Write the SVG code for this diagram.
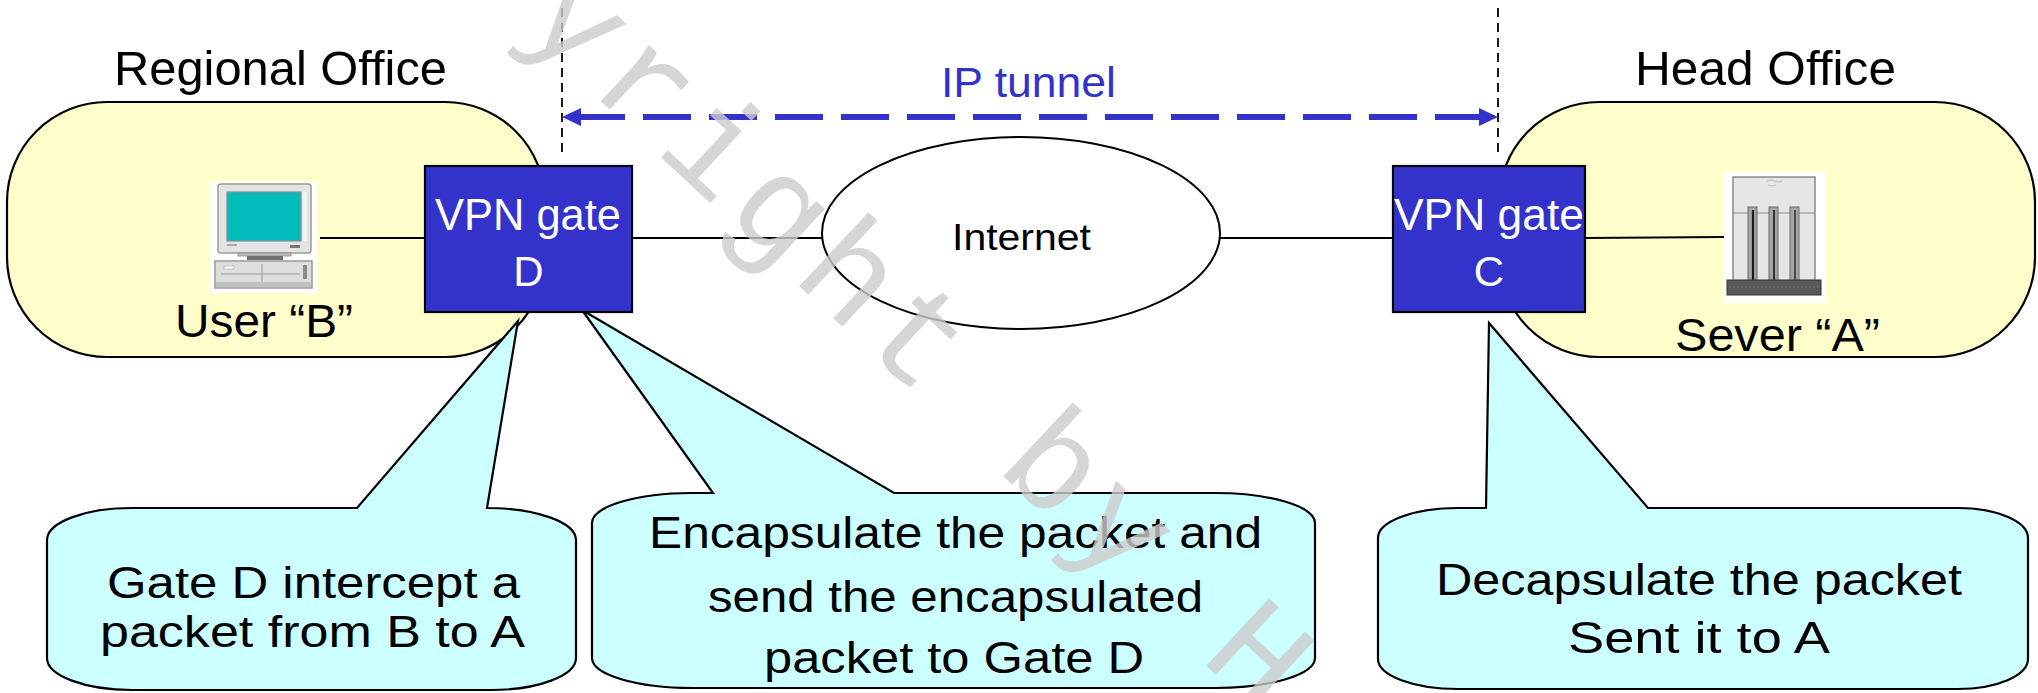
<svg xmlns="http://www.w3.org/2000/svg" width="2038" height="693" viewBox="0 0 2038 693">
  <defs>
    <style>
      .lbl { font-family: "Liberation Sans", Arial, sans-serif; fill: #000; }
      .wlbl { font-family: "Liberation Sans", Arial, sans-serif; fill: #fff; }
      .office { fill: #ffffcc; stroke: #000; stroke-width: 2.2; }
      .gate { fill: #3333cc; stroke: #000; stroke-width: 2.2; }
      .callout { fill: #ccffff; stroke: #000; stroke-width: 2.2; stroke-linejoin: miter; }
      .wire { stroke: #000; stroke-width: 2; fill: none; }
      .guide { stroke: #000; stroke-width: 1.8; stroke-dasharray: 9 6; fill: none; }
      .tunnel { stroke: #3333cc; stroke-width: 6; stroke-dasharray: 48 18; stroke-dashoffset: 51; fill: none; }
      .mark { font-family: "Liberation Mono", "Courier New", monospace; fill: #cccccc; fill-opacity: 0.8; }
    </style>
    <marker id="tunnelHead" markerUnits="userSpaceOnUse" markerWidth="20" markerHeight="20"
            viewBox="0 0 20 20" refX="19" refY="10" orient="auto-start-reverse">
      <path d="M0,1 L19,10 L0,19 Z" fill="#3333cc"/>
    </marker>
  </defs>

  <rect width="2038" height="693" fill="#fff"/>

  <!-- office areas -->
  <g id="regional-office">
    <rect class="office" x="7" y="102" width="538" height="255" rx="100" ry="100"/>
    <text class="lbl" x="114" y="85" font-size="48" textLength="333" lengthAdjust="spacingAndGlyphs">Regional Office</text>
  </g>
  <g id="head-office">
    <rect class="office" x="1499" y="102" width="536" height="255" rx="100" ry="100"/>
    <text class="lbl" x="1635" y="85" font-size="48" textLength="261" lengthAdjust="spacingAndGlyphs">Head Office</text>
  </g>

  <!-- tunnel span markers and arrow -->
  <g id="ip-tunnel">
    <line class="guide" x1="562" y1="8" x2="562" y2="155"/>
    <line class="guide" x1="1498" y1="8" x2="1498" y2="155"/>
    <line class="tunnel" x1="562" y1="117" x2="1498" y2="117" marker-start="url(#tunnelHead)" marker-end="url(#tunnelHead)"/>
    <text x="941" y="97" font-size="42" font-family="Liberation Sans, Arial, sans-serif" fill="#3333cc" textLength="175" lengthAdjust="spacingAndGlyphs">IP tunnel</text>
  </g>

  <!-- callouts -->
  <g id="callout-intercept">
    <path class="callout" d="M132,508 L357,508 L518,321 L487,508 A89,32 0 0 1 576,540 L576,658 A85,32 0 0 1 491,690 L132,690 A85,32 0 0 1 47,658 L47,540 A85,32 0 0 1 132,508 Z"/>
    <text class="lbl" x="107" y="598" font-size="44" textLength="413" lengthAdjust="spacingAndGlyphs">Gate D intercept a</text>
    <text class="lbl" x="100" y="647" font-size="44" textLength="425" lengthAdjust="spacingAndGlyphs">packet from B to A</text>
  </g>
  <g id="callout-encapsulate">
    <path class="callout" d="M692,493 L713,493 L582,310 L894,493 L1215,493 A100,30 0 0 1 1315,523 L1315,658 A100,30 0 0 1 1215,688 L692,688 A100,30 0 0 1 592,658 L592,523 A100,30 0 0 1 692,493 Z"/>
    <text class="lbl" x="649" y="548" font-size="44" textLength="613" lengthAdjust="spacingAndGlyphs">Encapsulate the packet and</text>
    <text class="lbl" x="708" y="612" font-size="44" textLength="495" lengthAdjust="spacingAndGlyphs">send the encapsulated</text>
    <text class="lbl" x="764" y="673" font-size="44" textLength="380" lengthAdjust="spacingAndGlyphs">packet to Gate D</text>
  </g>
  <g id="callout-decapsulate">
    <path class="callout" d="M1458,508 L1486,508 L1489,323 L1648,508 L1958,508 A70,30 0 0 1 2028,538 L2028,659 A70,30 0 0 1 1958,689 L1458,689 A80,30 0 0 1 1378,659 L1378,538 A80,30 0 0 1 1458,508 Z"/>
    <text class="lbl" x="1436" y="595" font-size="44" textLength="526" lengthAdjust="spacingAndGlyphs">Decapsulate the packet</text>
    <text class="lbl" x="1568" y="653" font-size="44" textLength="262" lengthAdjust="spacingAndGlyphs">Sent it to A</text>
  </g>

  <!-- links -->
  <g id="connectors">
    <line class="wire" x1="320" y1="238" x2="425" y2="238"/>
    <line class="wire" x1="632" y1="238" x2="823" y2="238"/>
    <line class="wire" x1="1219" y1="238" x2="1393" y2="238"/>
    <line class="wire" x1="1585" y1="238" x2="1724" y2="237"/>
  </g>

  <g id="user-b">
    <rect x="210" y="182" width="107" height="111" fill="#fff"/>
    <rect x="218" y="184" width="93" height="69" rx="3" fill="#e4e4e4" stroke="#9a9a9a" stroke-width="1.5"/>
    <rect x="227" y="192" width="74" height="49" fill="#03bdbd" stroke="#8c8c8c" stroke-width="1.2"/>
    <rect x="303" y="192" width="4" height="49" fill="#f4f4f4"/>
    <rect x="227" y="244" width="10" height="2" fill="#aaa"/>
    <rect x="290" y="245" width="10" height="3" fill="#777"/>
    <rect x="238" y="253" width="53" height="3" fill="#bdbdbd" stroke="#888" stroke-width="0.8"/>
    <rect x="247" y="256" width="36" height="4" fill="#6f6f6f"/>
    <rect x="215" y="261" width="97" height="27" fill="#dedede" stroke="#9a9a9a" stroke-width="1.5"/>
    <line x1="221" y1="274" x2="300" y2="274" stroke="#999" stroke-width="1"/>
    <line x1="262" y1="264" x2="262" y2="282" stroke="#999" stroke-width="1"/>
    <rect x="224" y="266" width="10" height="3" fill="#fafafa" stroke="#aaa" stroke-width="0.6"/>
    <rect x="303" y="265" width="4" height="14" fill="#8a8a8a"/>
    <rect x="216" y="282" width="95" height="5" fill="#c2c2c2"/>
    <text class="lbl" x="175" y="337" font-size="46" textLength="178" lengthAdjust="spacingAndGlyphs">User “B”</text>
  </g>

  <g id="server-a">
    <rect x="1724" y="172" width="102" height="131" fill="#fff"/>
    <rect x="1733" y="177" width="82" height="106" fill="#e6e6e6" stroke="#8a8a8a" stroke-width="1.5"/>
    <line x1="1733" y1="213" x2="1815" y2="213" stroke="#8a8a8a" stroke-width="1.2"/>
    <path d="M1767,181 q4,-2 8,0 q4,2 8,0 M1768,185 q4,2 8,0" stroke="#c0c0c0" stroke-width="1" fill="none"/>
    <rect x="1748" y="207" width="9" height="76" fill="#a4a4a4" stroke="#6a6a6a" stroke-width="1"/>
    <line x1="1753" y1="210" x2="1753" y2="281" stroke="#1a1a1a" stroke-width="2.2"/>
    <rect x="1769" y="207" width="9" height="76" fill="#a4a4a4" stroke="#6a6a6a" stroke-width="1"/>
    <line x1="1774" y1="210" x2="1774" y2="281" stroke="#333" stroke-width="2"/>
    <rect x="1790" y="207" width="9" height="76" fill="#a4a4a4" stroke="#6a6a6a" stroke-width="1"/>
    <line x1="1795" y1="210" x2="1795" y2="281" stroke="#444" stroke-width="1.8"/>
    <rect x="1727" y="280" width="94" height="15" fill="#595959" stroke="#333" stroke-width="1"/>
    <line x1="1729" y1="287" x2="1819" y2="287" stroke="#777" stroke-width="1" stroke-dasharray="2 2"/>
    <text class="lbl" x="1675" y="351" font-size="46" textLength="205" lengthAdjust="spacingAndGlyphs">Sever “A”</text>
  </g>

  <g id="internet">
    <ellipse cx="1021" cy="233" rx="199" ry="96" fill="#fff" stroke="#000" stroke-width="2"/>
    <text class="lbl" x="952" y="250" font-size="36" textLength="139" lengthAdjust="spacingAndGlyphs">Internet</text>
  </g>

  <g id="gate-d">
    <rect class="gate" x="425" y="166" width="207" height="146"/>
    <text class="wlbl" x="435" y="230" font-size="44" textLength="186" lengthAdjust="spacingAndGlyphs">VPN gate</text>
    <text class="wlbl" x="528.5" y="286" font-size="42" text-anchor="middle">D</text>
  </g>

  <g id="gate-c">
    <rect class="gate" x="1393" y="166" width="192" height="146"/>
    <text class="wlbl" x="1394" y="230" font-size="44" textLength="190" lengthAdjust="spacingAndGlyphs">VPN gate</text>
    <text class="wlbl" x="1489" y="286" font-size="42" text-anchor="middle">C</text>
  </g>

  <!-- diagonal watermark -->
  <text class="mark" font-size="140" letter-spacing="9" transform="translate(518,24) rotate(43)">yright by H</text>
</svg>
